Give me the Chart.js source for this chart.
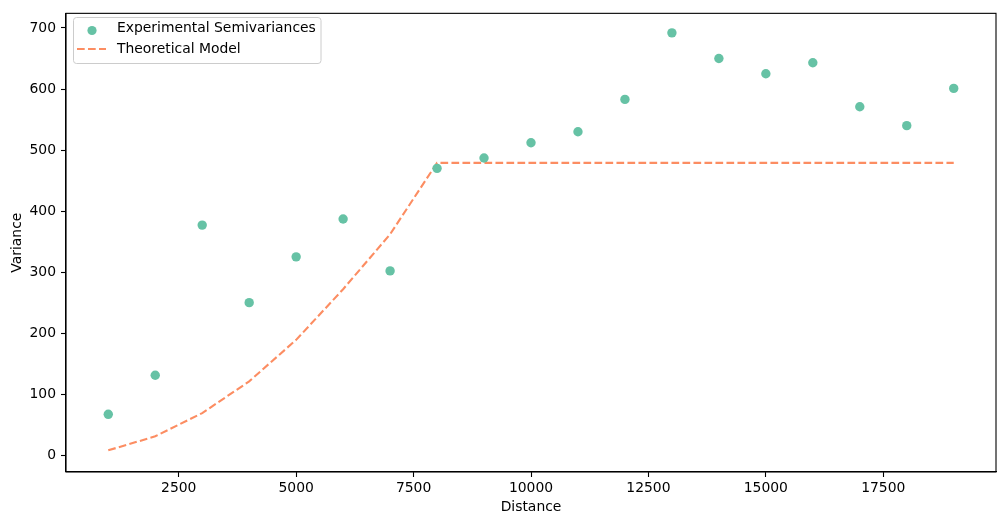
<!DOCTYPE html>
<html>
<head>
<meta charset="utf-8">
<script src="https://cdn.jsdelivr.net/npm/chart.js@4/dist/chart.umd.min.js"></script>
<style>
html,body{margin:0;padding:0;background:#fff;}
#wrap{width:1005px;height:525px;position:relative;}
</style>
</head>
<body>
<div id="wrap"><canvas id="c" width="1005" height="525"></canvas></div>
<script>
const distances = [1000,2000,3000,4000,5000,6000,7000,8000,9000,10000,11000,12000,13000,14000,15000,16000,17000,18000,19000];
const experimental = [67,131,377,250,325,387,302,470,487,512,530,583,692,650,625,643,571,540,601];
const model = [8,31,69,121,189,272,362,479,479,479,479,479,479,479,479,479,479,479,479];
const xTicks = [2500,5000,7500,10000,12500,15000,17500];
const yTicks = [0,100,200,300,400,500,600,700];
const seriesLabels = ['Experimental Semivariances','Theoretical Model'];

const FONT = "'DejaVu Sans', sans-serif";
const FS = 13.9;
const SCATTER = '#66c2a5';
const LINE = '#fc8d62';

const framePlugin = {
  id: 'frame',
  afterDraw(chart) {
    const ctx = chart.ctx, a = chart.chartArea;
    ctx.save();
    ctx.strokeStyle = '#000';
    ctx.lineWidth = 1.1;
    ctx.strokeRect(a.left, a.top, a.right-a.left, a.bottom-a.top);
    // legend
    const lx = 73.5, ly = 17.5, lw = 247.5, lh = 46;
    ctx.fillStyle = 'rgba(255,255,255,0.8)';
    ctx.strokeStyle = '#cccccc';
    ctx.lineWidth = 1;
    ctx.beginPath();
    if (ctx.roundRect) ctx.roundRect(lx, ly, lw, lh, 3); else ctx.rect(lx, ly, lw, lh);
    ctx.fill(); ctx.stroke();
    ctx.fillStyle = SCATTER;
    ctx.beginPath(); ctx.arc(92, 30.5, 4.6, 0, Math.PI*2); ctx.fill();
    ctx.strokeStyle = LINE; ctx.lineWidth = 2.1; ctx.setLineDash([7.7,3.3]);
    ctx.beginPath(); ctx.moveTo(77, 49); ctx.lineTo(106, 49); ctx.stroke();
    ctx.setLineDash([]);
    ctx.fillStyle = '#000';
    ctx.font = FS + 'px ' + FONT;
    ctx.textBaseline = 'middle';
    ctx.fillText(seriesLabels[0], 117, 28.5);
    ctx.fillText(seriesLabels[1], 117, 49);
    ctx.restore();
  }
};

new Chart(document.getElementById('c'), {
  type: 'scatter',
  data: {
    datasets: [
      {
        label: seriesLabels[0],
        data: distances.map((d,i)=>({x:d,y:experimental[i]})),
        backgroundColor: SCATTER,
        borderColor: SCATTER,
        pointRadius: 4.7,
        pointHoverRadius: 4.7,
        borderWidth: 0,
        order: 1
      },
      {
        label: seriesLabels[1],
        data: distances.map((d,i)=>({x:d,y:model[i]})),
        showLine: true,
        borderColor: LINE,
        backgroundColor: LINE,
        borderWidth: 2.1,
        borderDash: [7.7,3.3],
        pointRadius: 0,
        fill: false,
        order: 2
      }
    ]
  },
  options: {
    responsive: false,
    animation: false,
    events: [],
    layout: { padding: { left: 0, right: 9, top: 11, bottom: 0 } },
    plugins: { legend: { display: false }, tooltip: { enabled: false } },
    scales: {
      x: {
        type: 'linear', min: 100, max: 19900,
        afterBuildTicks: s => { s.ticks = xTicks.map(v=>({value:v})); },
        afterFit: s => { s.height = 53; },
        grid: { drawOnChartArea: false, color: '#000', tickLength: 5, tickWidth: 1.1 },
        border: { display: true, color: '#000', width: 1.1 },
        ticks: { color: '#000', font: { family: FONT, size: FS }, padding: 3, maxRotation: 0, autoSkip: false, callback: v => String(v) },
        title: { display: true, text: 'Distance', color: '#000', font: { family: FONT, size: FS }, padding: { top: 2, bottom: 9 } }
      },
      y: {
        type: 'linear', min: -27.5, max: 724,
        afterBuildTicks: s => { s.ticks = yTicks.map(v=>({value:v})); },
        afterFit: s => { s.width = 66; },
        grid: { drawOnChartArea: false, color: '#000', tickLength: 5, tickWidth: 1.1 },
        border: { display: true, color: '#000', width: 1.1 },
        ticks: { color: '#000', font: { family: FONT, size: FS }, padding: 5, autoSkip: false, callback: v => String(v) },
        title: { display: true, text: 'Variance', color: '#000', font: { family: FONT, size: FS }, padding: { top: 9, bottom: 0 } }
      }
    }
  },
  plugins: [framePlugin]
});
</script>
</body>
</html>
